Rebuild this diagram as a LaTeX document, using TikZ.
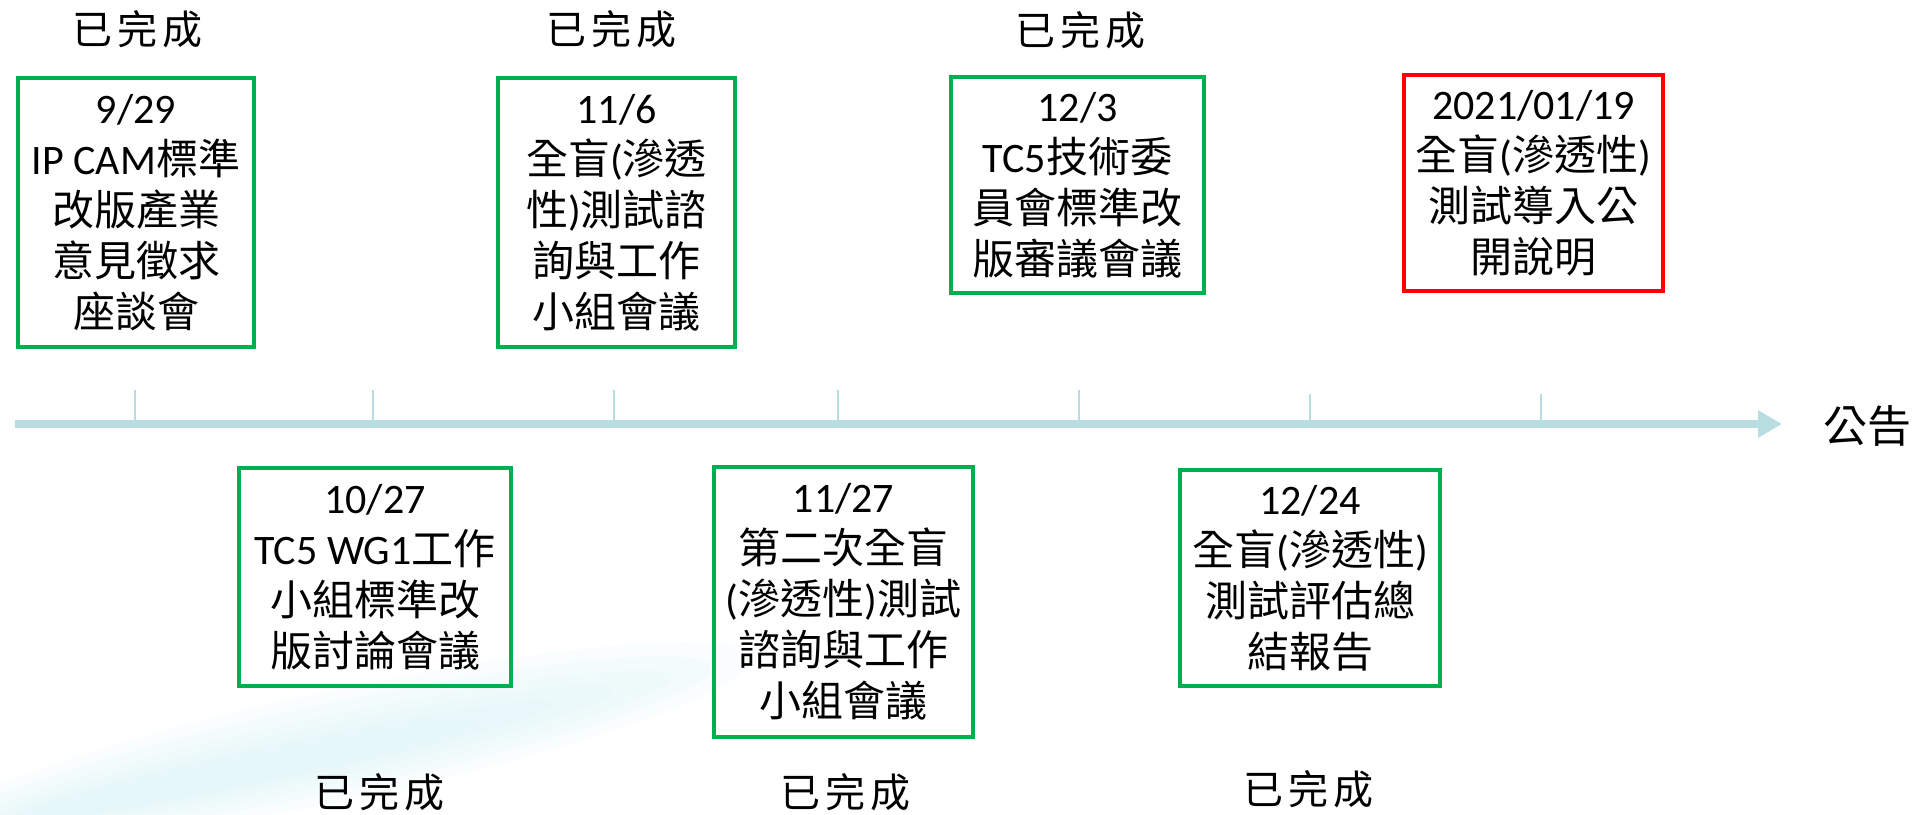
\documentclass[tikz,border=0pt]{standalone}
\usepackage{fontspec}
\setmainfont{Carlito}
\newfontfamily\cjkf{Noto Sans CJK TC}
\usetikzlibrary{arrows.meta}
\definecolor{axisblue}{RGB}{183,221,225}
\definecolor{okgreen}{RGB}{0,176,80}
\definecolor{swooshc}{RGB}{215,243,246}
\newcommand{\zh}[1]{{\cjkf #1}}
\begin{document}
\begin{tikzpicture}[x=1pt,y=-1pt,
  evbox/.style={draw=okgreen, line width=4pt, inner sep=0pt, align=center,
    font=\fontsize{42}{51}\selectfont, text=black},
  redbox/.style={evbox, draw=red},
  donelbl/.style={font=\cjkf\fontsize{40}{44}\selectfont, inner sep=0pt},
  axisline/.style={draw=axisblue, line width=8pt, -{Triangle[length=24pt,width=26pt]}},
  tickline/.style={draw=axisblue, line width=2pt},
  endlbl/.style={font=\cjkf\fontsize{44}{48}\selectfont, inner sep=0pt},
  swoosh/.style={fill=swooshc, opacity=0.16}
]
\useasboundingbox (0,0) rectangle (1926,814);
% faint background swoosh
\begin{scope}
  \clip (0,0) rectangle (1926,814);
  \foreach \cx/\cy/\rx/\ry in {340/745/420/55, 330/748/390/44, 320/752/360/34, 300/757/320/26, 280/762/280/19, 250/770/230/13}{
    \fill[swoosh, rotate around={12:(\cx,\cy)}] (\cx,\cy) ellipse [x radius=\rx, y radius=\ry];
  }
\end{scope}
% axis
\coordinate (axs) at (15,424);
\coordinate (axe) at (1782,424);
\foreach \tx/\ty [count=\i] in {135/390, 373/390, 614/390, 838/390, 1079/390, 1310/394, 1541/394}{
  \coordinate (tt\i) at (\tx,\ty);
  \coordinate (tb\i) at (\tx,424);
  \draw[tickline] (tt\i) -- (tb\i);
}
\draw[axisline] (axs) -- (axe);
\node[endlbl] (gg) at (1867,426) {公告};
% top boxes
\node[evbox, minimum width=236pt, minimum height=269pt] (b1) at (136,212.5)
  {9/29\\IP CAM\zh{標準}\\\zh{改版產業}\\\zh{意見徵求}\\\zh{座談會}};
\node[evbox, minimum width=237pt, minimum height=269pt] (b2) at (616.5,212.5)
  {11/6\\\zh{全盲}(\zh{滲透}\\\zh{性})\zh{測試諮}\\\zh{詢與工作}\\\zh{小組會議}};
\node[evbox, minimum width=253pt, minimum height=216pt] (b3) at (1077.5,185)
  {12/3\\TC5\zh{技術委}\\\zh{員會標準改}\\\zh{版審議會議}};
\node[redbox, minimum width=259pt, minimum height=216pt] (b4) at (1533.5,183)
  {2021/01/19\\\zh{全盲}(\zh{滲透性})\\\zh{測試導入公}\\\zh{開說明}};
% bottom boxes
\node[evbox, minimum width=272pt, minimum height=218pt] (b5) at (375,577)
  {10/27\\TC5 WG1\zh{工作}\\\zh{小組標準改}\\\zh{版討論會議}};
\node[evbox, minimum width=259pt, minimum height=270pt] (b6) at (843.5,602)
  {11/27\\\zh{第二次全盲}\\(\zh{滲透性})\zh{測試}\\\zh{諮詢與工作}\\\zh{小組會議}};
\node[evbox, minimum width=260pt, minimum height=216pt] (b7) at (1310,578)
  {12/24\\\zh{全盲}(\zh{滲透性})\\\zh{測試評估總}\\\zh{結報告}};
% done labels
\node[donelbl] (d1) at (137,29) {已\hspace{5pt}完\hspace{5pt}成};
\node[donelbl] (d2) at (611,29) {已\hspace{5pt}完\hspace{5pt}成};
\node[donelbl] (d3) at (1080,30) {已\hspace{5pt}完\hspace{5pt}成};
\node[donelbl] (d4) at (379,792) {已\hspace{5pt}完\hspace{5pt}成};
\node[donelbl] (d5) at (845,792) {已\hspace{5pt}完\hspace{5pt}成};
\node[donelbl] (d6) at (1308,789) {已\hspace{5pt}完\hspace{5pt}成};
\end{tikzpicture}
\end{document}
